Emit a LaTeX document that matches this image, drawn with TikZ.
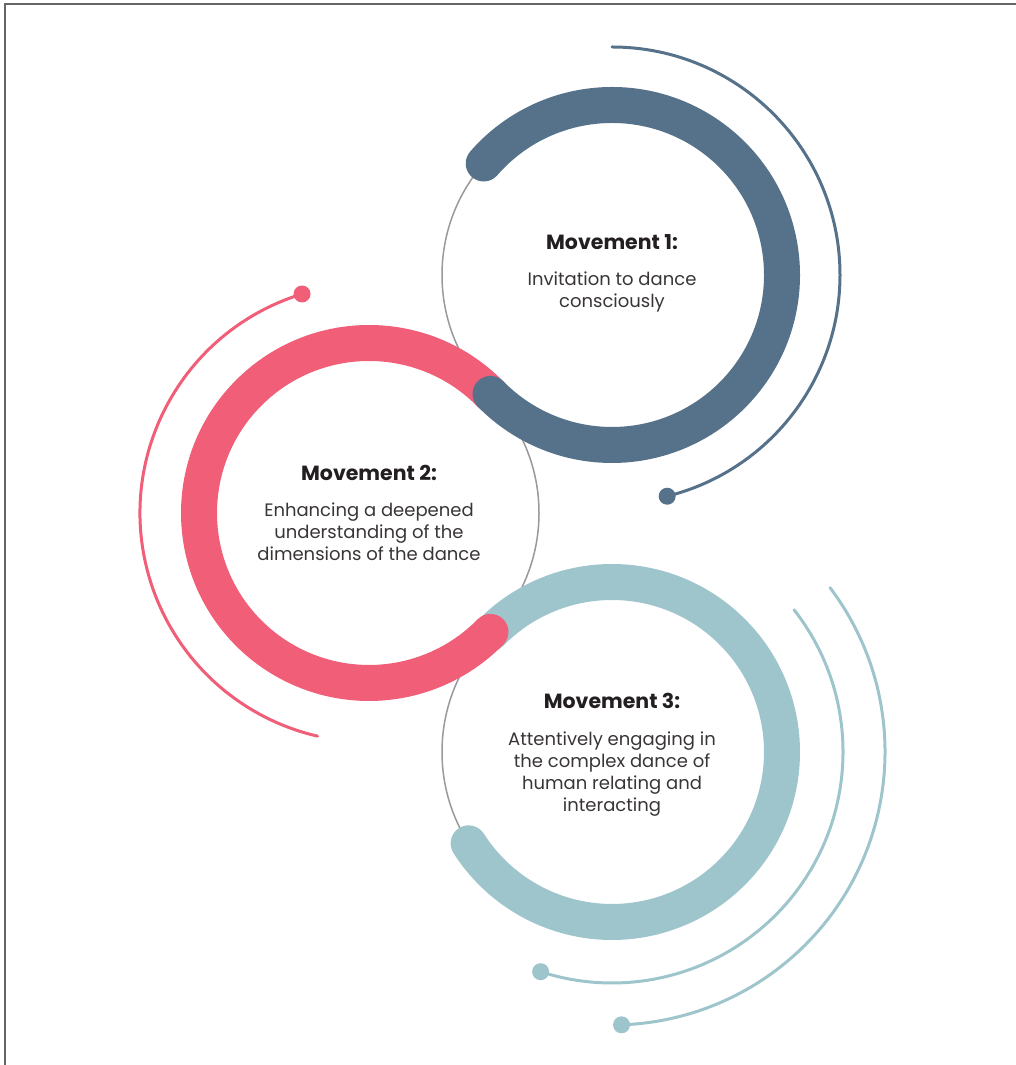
\documentclass[tikz,border=0pt]{standalone}
\usepackage{fontspec}
\setmainfont{Poppins}
\definecolor{slate}{HTML}{56728A}
\definecolor{rose}{HTML}{F05E78}
\definecolor{aqua}{HTML}{9DC5CB}
\definecolor{ink}{HTML}{231F20}
\begin{document}
\begin{tikzpicture}[x=1pt,y=1pt,line cap=round,
		ring/.style={line width=36pt},
		orbit/.style={line width=3pt},
		heading/.style={font=\fontsize{20.5}{22}\selectfont\bfseries,text=ink},
		body/.style={font=\fontsize{18}{22}\selectfont,text=ink!90,align=center}]
		\def\r{170}
		\useasboundingbox (0,0) rectangle (1016,1065);
		\draw[black!60,line width=1.5pt] (5,0)--(5,1061)--(1016,1061);
		\path
		(612,790) coordinate (A)
		(369,552) coordinate (B)
		(612,313) coordinate (C);
		\foreach \x in {A,B,C} \draw[black!40,line width=1.5pt] (\x) circle (\r);
		% outer orbits
		\draw[orbit,slate] (A) ++(90:228) arc[start angle=90,end angle=-76,radius=228] coordinate (a1);
		\draw[orbit,rose] (B) ++(107:229) coordinate (b1) arc[start angle=107,end angle=257,radius=229];
		\draw[orbit,aqua] (C) ++(38:231) arc[start angle=38,end angle=-108,radius=231] coordinate (c1);
		\draw[orbit,aqua] (C) ++(37:273) arc[start angle=37,end angle=-88,radius=273] coordinate (c2);
		\foreach \x/\c in {a1/slate,b1/rose,c1/aqua,c2/aqua} \fill[\c] (\x) circle (8.5);
		% thick rings
		\draw[ring,aqua] (C) ++(135.6:\r) arc[start angle=135.6,end angle=-147.5,radius=\r];
		\draw[ring,rose] (B) ++(44.4:\r) arc[start angle=44.4,end angle=315.6,radius=\r];
		\draw[ring,slate] (A) ++(139:\r) arc[start angle=139,end angle=-135.6,radius=\r];
		% texts
		\node[heading] (h1) at (612,823) {Movement 1:};
		\node[body] (t1) at (612,773) {Invitation to dance\\consciously};
		\node[heading] (h2) at (369,592) {Movement 2:};
		\node[body] (t2) at (369,533) {Enhancing a deepened\\understanding of the\\dimensions of the dance};
		\node[heading] (h3) at (612,364) {Movement 3:};
		\node[body] (t3) at (612,291) {Attentively engaging in\\the complex dance of\\human relating and\\interacting};
	\end{tikzpicture}
\end{document}
